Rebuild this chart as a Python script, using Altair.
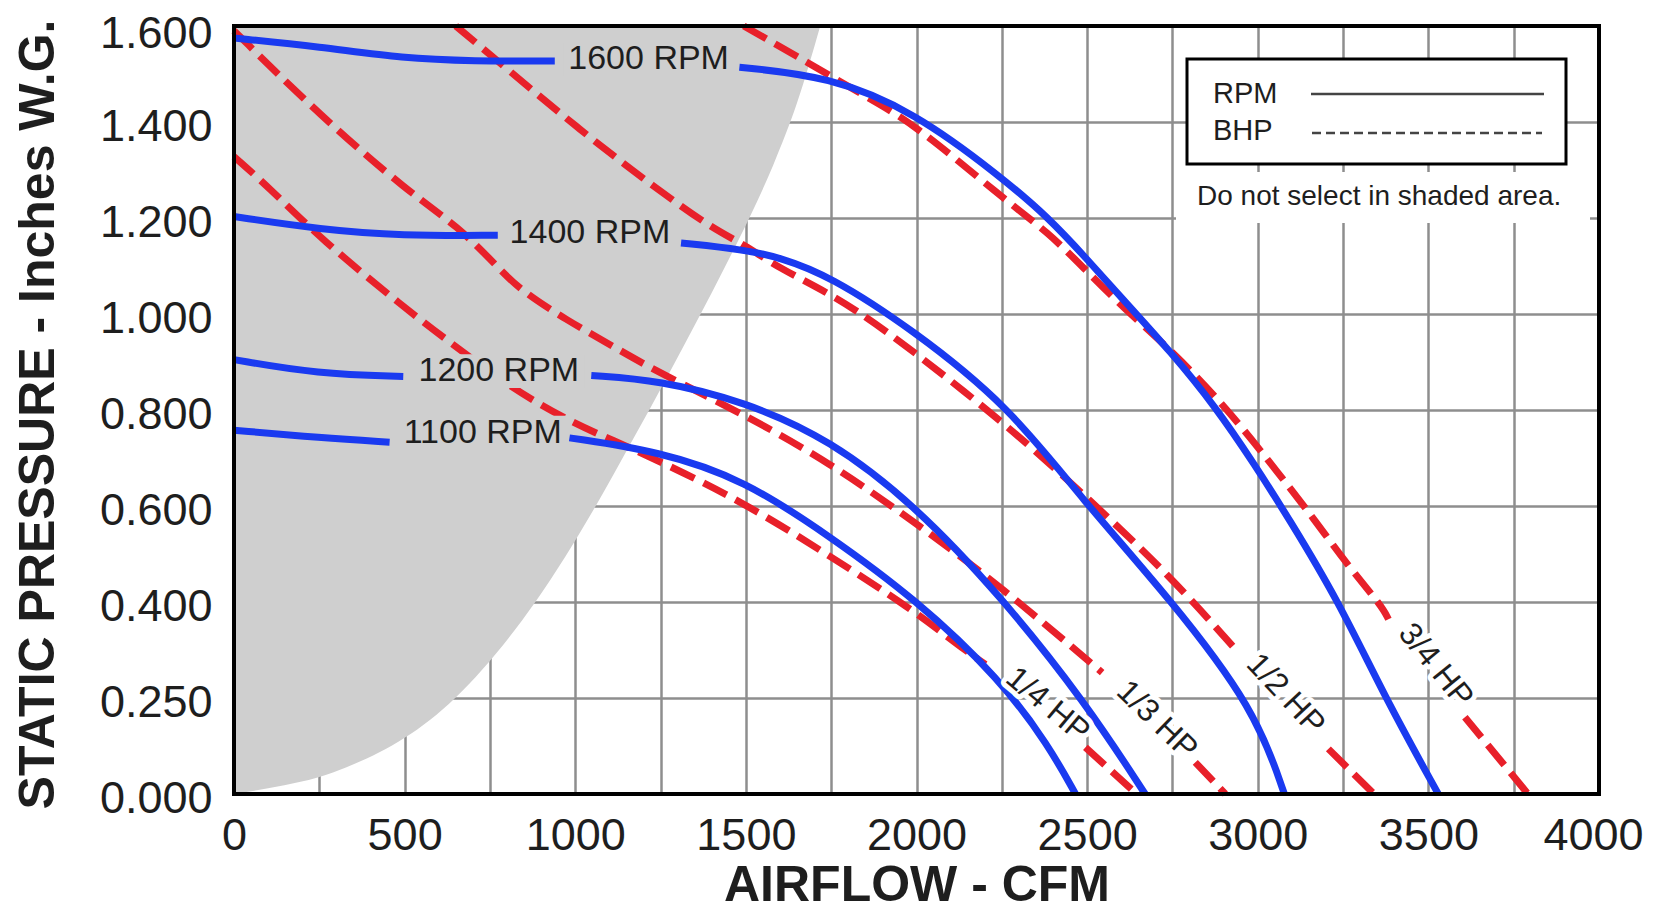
import altair as alt
import pandas as pd

# ---------------- data ----------------
X_TICKS = list(range(0, 4001, 250))
Y_TICKS = [0.0, 0.2, 0.4, 0.6, 0.8, 1.0, 1.2, 1.4, 1.6]

# boundary of the "do not select" shaded region (CFM, in. W.G.)
SHADE_CFM = [0, 100, 290, 648, 883, 1060, 1170, 1270, 1360, 1440, 1510, 1580, 1650, 1718]
SHADE_SP = [0.0, 0.012, 0.045, 0.2, 0.4, 0.6, 0.74, 0.87, 0.99, 1.1, 1.2, 1.31, 1.44, 1.6]

# fan curves (RPM) - each broken around its label
RPM1600_L_X = [0, 250, 500, 700, 940]
RPM1600_L_Y = [1.575, 1.557, 1.532, 1.527, 1.527]
RPM1600_R_X = [1481, 1744, 1992, 2246, 2388, 2495, 2612, 2744, 2875, 2992, 3090, 3238, 3373, 3529]
RPM1600_R_Y = [1.514, 1.495, 1.422, 1.287, 1.200, 1.118, 1.025, 0.922, 0.808, 0.685, 0.575, 0.400, 0.201, 0.0]

RPM1400_L_X = [0, 256, 491, 773]
RPM1400_L_Y = [1.203, 1.176, 1.163, 1.164]
RPM1400_R_X = [1310, 1495, 1598, 1744, 1988, 2271, 2485, 2744, 2992, 3078]
RPM1400_R_Y = [1.148, 1.134, 1.118, 1.080, 0.968, 0.808, 0.614, 0.406, 0.177, 0.0]

RPM1200_L_X = [0, 245, 496]
RPM1200_L_Y = [0.905, 0.875, 0.870]
RPM1200_R_X = [1047, 1246, 1495, 1746, 1998, 2246, 2495, 2670]
RPM1200_R_Y = [0.872, 0.862, 0.818, 0.739, 0.600, 0.413, 0.191, 0.0]

RPM1100_L_X = [0, 256, 456]
RPM1100_L_Y = [0.758, 0.742, 0.733]
RPM1100_R_X = [983, 1246, 1495, 1746, 1998, 2246, 2388, 2466]
RPM1100_R_Y = [0.742, 0.714, 0.655, 0.537, 0.406, 0.239, 0.100, 0.0]

# brake horsepower lines (BHP) - each broken around its label
HP14_A_X = [0, 99, 256, 505, 622, 817, 993, 1110, 1246, 1495, 1746, 1985, 2124, 2202]
HP14_A_Y = [1.328, 1.266, 1.155, 1.010, 0.947, 0.843, 0.773, 0.737, 0.694, 0.607, 0.496, 0.386, 0.309, 0.270]
HP14_B_X = [2495, 2645]
HP14_B_Y = [0.097, 0.0]

HP13_A_X = [0, 256, 510, 658, 771, 837, 973, 1110, 1246, 1495, 1746, 1998, 2246, 2544]
HP13_A_Y = [1.59, 1.411, 1.255, 1.182, 1.099, 1.051, 0.988, 0.933, 0.877, 0.791, 0.690, 0.565, 0.433, 0.253]
HP13_B_X = [2817, 2905]
HP13_B_Y = [0.066, 0.0]

HP12_A_X = [650, 793, 1012, 1236, 1402, 1495, 1598, 1744, 1910, 2271, 2505, 2744, 2934]
HP12_A_Y = [1.6, 1.515, 1.384, 1.262, 1.178, 1.145, 1.095, 1.044, 0.968, 0.766, 0.614, 0.454, 0.302]
HP12_B_X = [3207, 3341]
HP12_B_Y = [0.094, 0.0]

HP34_A_X = [1494, 1686, 1851, 1992, 2246, 2388, 2495, 2612, 2744, 2905, 3070, 3168, 3265, 3363, 3383]
HP34_A_Y = [1.6, 1.522, 1.453, 1.397, 1.245, 1.169, 1.092, 1.009, 0.926, 0.808, 0.660, 0.570, 0.475, 0.392, 0.364]
HP34_B_X = [3607, 3792]
HP34_B_Y = [0.160, 0.0]

RPM_LABELS = ["1600 RPM", "1400 RPM", "1200 RPM", "1100 RPM"]
RPM_LABEL_X = [1215, 1043, 776, 729]
RPM_LABEL_Y = [1.531, 1.168, 0.881, 0.753]

HP_LABELS = ["1/4 HP", "1/3 HP", "1/2 HP", "3/4 HP"]
HP_LABEL_X = [2385, 2705, 3082, 3522]
HP_LABEL_Y = [0.186, 0.154, 0.208, 0.268]
HP_LABEL_ANGLE = [40, 44, 47, 51]

# ---------------- styling ----------------
BLUE = "#1a3af0"
RED = "#e8202a"
GREY = "#cfcfcf"
GRID = "#8e8e8e"
INK = "#1e1e1e"
FONT = "Liberation Sans"
W, H = 1365, 768
LW = 7


def segments(d):
    rows = []
    for name, (xs, ys) in d.items():
        for i, (x, y) in enumerate(zip(xs, ys)):
            rows.append({"seg": name, "cfm": x, "sp": y, "ord": i})
    return pd.DataFrame(rows)


rpm_df = segments({
    "1600a": (RPM1600_L_X, RPM1600_L_Y), "1600b": (RPM1600_R_X, RPM1600_R_Y),
    "1400a": (RPM1400_L_X, RPM1400_L_Y), "1400b": (RPM1400_R_X, RPM1400_R_Y),
    "1200a": (RPM1200_L_X, RPM1200_L_Y), "1200b": (RPM1200_R_X, RPM1200_R_Y),
    "1100a": (RPM1100_L_X, RPM1100_L_Y), "1100b": (RPM1100_R_X, RPM1100_R_Y),
})
bhp_df = segments({
    "14a": (HP14_A_X, HP14_A_Y), "14b": (HP14_B_X, HP14_B_Y),
    "13a": (HP13_A_X, HP13_A_Y), "13b": (HP13_B_X, HP13_B_Y),
    "12a": (HP12_A_X, HP12_A_Y), "12b": (HP12_B_X, HP12_B_Y),
    "34a": (HP34_A_X, HP34_A_Y), "34b": (HP34_B_X, HP34_B_Y),
})
shade_df = pd.DataFrame({"cfm": SHADE_CFM, "sp": SHADE_SP})
rpm_lab = pd.DataFrame({"label": RPM_LABELS, "cfm": RPM_LABEL_X, "sp": RPM_LABEL_Y})
hp_lab = pd.DataFrame({"label": HP_LABELS, "cfm": HP_LABEL_X, "sp": HP_LABEL_Y, "ang": HP_LABEL_ANGLE})

XS = alt.Scale(domain=[0, 4000], nice=False, zero=False)
YS = alt.Scale(domain=[0, 1.6], nice=False, zero=False)

XA = alt.Axis(
    values=X_TICKS,
    labelExpr="datum.value % 500 == 0 ? format(datum.value, 'd') : ''",
    ticks=False, domain=False, grid=True, gridColor=GRID, gridWidth=2.5,
    labelFont=FONT, labelFontSize=45, labelColor=INK, labelPadding=19,
    labelOffset={"condition": {"test": "datum.value == 4000", "value": -6}, "value": 0},
    labelFlush=False, labelOverlap=False,
    title="AIRFLOW - CFM", titleFont=FONT, titleFontSize=50, titleFontWeight="bold",
    titleColor=INK, titleY=91, titleBaseline="middle",
)
YA = alt.Axis(
    values=Y_TICKS,
    labelExpr="abs(datum.value - 0.2) < 0.000001 ? '0.250' : format(datum.value, '.3f')",
    ticks=False, domain=False, grid=True, gridColor=GRID, gridWidth=2.5,
    labelFont=FONT, labelFontSize=45, labelColor=INK, labelPadding=22,
    labelOffset={"condition": {"test": "datum.value > 1.5", "value": 7}, "value": 4},
    labelOverlap=False, labelFlush=False,
    title="STATIC PRESSURE - Inches W.G.", titleFont=FONT, titleFontSize=50,
    titleFontWeight="bold", titleColor=INK, titleX=-196, titleY=388,
    titleBaseline="middle", titleAngle=270,
)
X = alt.X("cfm:Q", scale=XS, axis=XA)
Y = alt.Y("sp:Q", scale=YS, axis=YA)

one = alt.Data(values=[{}])

shade = alt.Chart(shade_df).mark_area(color=GREY, interpolate="monotone").encode(
    x=X, y=Y, y2=alt.datum(1.6)
)

note_knock = alt.Chart(one).mark_rect(fill="white", strokeWidth=0).encode(
    x=alt.value(942), x2=alt.value(1356), y=alt.value(146), y2=alt.value(197)
)
legend_box = alt.Chart(one).mark_rect(fill="white", stroke="black", strokeWidth=3).encode(
    x=alt.value(953), x2=alt.value(1332), y=alt.value(33), y2=alt.value(138)
)

bhp = alt.Chart(bhp_df).mark_line(
    color=RED, strokeWidth=LW, strokeDash=[26, 10], interpolate="basis", strokeCap="butt"
).encode(x=X, y=Y, detail="seg:N", order="ord:Q")

rpm = alt.Chart(rpm_df).mark_line(
    color=BLUE, strokeWidth=LW, interpolate="basis", strokeCap="butt"
).encode(x=X, y=Y, detail="seg:N", order="ord:Q")

# grey knock-out boxes behind the horizontal RPM labels
rpm_knock = alt.Chart(rpm_lab).transform_calculate(
    c1="datum.cfm - 250", c2="datum.cfm + 250", s1="datum.sp - 0.035", s2="datum.sp + 0.035"
).mark_rect(color=GREY).encode(
    x=alt.X("c1:Q", scale=XS, axis=XA), x2="c2:Q",
    y=alt.Y("s1:Q", scale=YS, axis=YA), y2="s2:Q",
)

frame = alt.Chart(one).mark_rect(fillOpacity=0, stroke="black", strokeWidth=4).encode(
    x=alt.value(0), x2=alt.value(W), y=alt.value(0), y2=alt.value(H)
)

rpm_text = alt.Chart(rpm_lab).mark_text(
    font=FONT, fontSize=34, color=INK, align="center", baseline="middle"
).encode(x=X, y=Y, text="label:N")

hp_halo = alt.Chart(hp_lab).mark_text(
    font=FONT, fontSize=32, fill="white", stroke="white", strokeWidth=10, strokeJoin="round",
    align="center", baseline="middle"
).encode(x=X, y=Y, text="label:N", angle=alt.Angle("ang:Q", scale=None))
hp_text = alt.Chart(hp_lab).mark_text(
    font=FONT, fontSize=32, color=INK, align="center", baseline="middle"
).encode(x=X, y=Y, text="label:N", angle=alt.Angle("ang:Q", scale=None))

leg_rpm_t = alt.Chart(one).mark_text(
    text="RPM", font=FONT, fontSize=29, color=INK, align="left", baseline="middle"
).encode(x=alt.value(979), y=alt.value(68))
leg_bhp_t = alt.Chart(one).mark_text(
    text="BHP", font=FONT, fontSize=29, color=INK, align="left", baseline="middle"
).encode(x=alt.value(979), y=alt.value(105))
leg_rpm_l = alt.Chart(one).mark_rule(color="#444444", strokeWidth=2.5).encode(
    x=alt.value(1077), x2=alt.value(1310), y=alt.value(68)
)
leg_bhp_l = alt.Chart(one).mark_rule(color="#444444", strokeWidth=2.5, strokeDash=[9, 5]).encode(
    x=alt.value(1078), x2=alt.value(1308), y=alt.value(107)
)
note = alt.Chart(one).mark_text(
    text="Do not select in shaded area.", font=FONT, fontSize=28, color=INK,
    align="left", baseline="middle"
).encode(x=alt.value(963), y=alt.value(171))

chart = alt.layer(
    shade, note_knock, legend_box, bhp, rpm, rpm_knock, frame,
    rpm_text, hp_halo, hp_text,
    leg_rpm_t, leg_bhp_t, leg_rpm_l, leg_bhp_l, note,
).properties(
    width=W, height=H,
    autosize=alt.AutoSizeParams(type="none"),
    padding={"left": 226, "top": 18, "right": 48, "bottom": 117},
    background="white",
).configure_view(strokeWidth=0)

chart.save("out.html", embed_options={"renderer": "svg", "actions": False})
